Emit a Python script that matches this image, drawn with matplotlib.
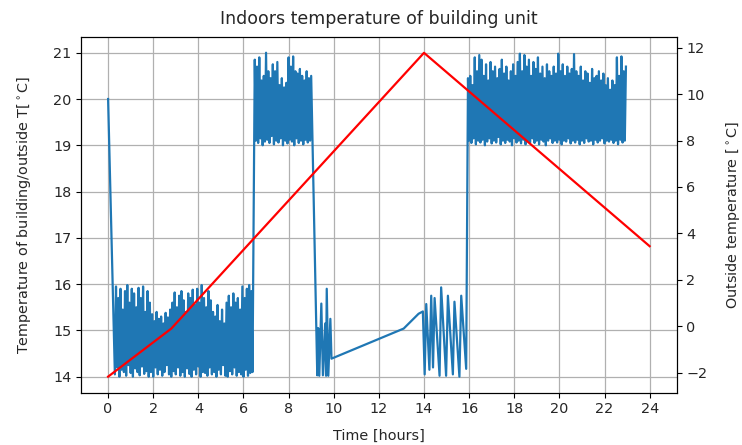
import numpy as np
import matplotlib
matplotlib.use("Agg")
import matplotlib.pyplot as plt

# ---- Outside temperature (right axis) ----
out_time = [0.0, 2.8, 14.0, 24.0]
out_temp = [-2.17, -0.10, 11.78, 3.45]

# ---- Indoor temperature (left axis) ----
# start point
start_time = [0.0]
start_temp = [20.0]

# band A: t = 0.30 ... 6.40, step 0.05
bandA_t0, bandA_dt = 0.30, 0.05
bandA = [14.05, 15.95, 14.20, 15.70, 14.00, 15.90, 14.15, 15.45, 14.10, 15.85,
         14.02, 15.98, 14.25, 15.60, 14.08, 15.90, 14.00, 15.80, 14.18, 15.50,
         14.10, 15.92, 14.03, 15.70, 14.22, 15.95, 14.06, 15.40, 14.12, 15.85,
         14.00, 15.60, 14.10, 15.35, 14.00, 15.20, 14.20, 15.40, 14.05, 15.25,
         14.15, 15.30, 14.02, 15.15, 14.10, 15.38, 14.25, 15.28, 14.05, 15.45,
         14.00, 15.60, 14.12, 15.82, 14.05, 15.50, 14.20, 15.75, 14.02, 15.85,
         14.10, 15.65, 14.00, 15.40, 14.18, 15.80, 14.06, 15.70, 14.00, 15.88,
         14.15, 15.55, 14.05, 15.90, 14.22, 15.60, 14.00, 15.98, 14.10, 15.70,
         14.08, 15.50, 14.02, 15.85, 14.20, 15.65, 14.05, 15.40, 14.10, 15.30,
         14.00, 15.55, 14.15, 15.20, 14.05, 15.45, 14.25, 15.15, 14.02, 15.60,
         14.00, 15.75, 14.12, 15.50, 14.05, 15.80, 14.20, 15.60, 14.02, 15.70,
         14.10, 15.45, 14.05, 15.95, 14.00, 15.70, 14.15, 15.90, 14.02, 15.98,
         14.08, 15.85, 14.10]

# band B: t = 6.50 ... 9.00, step 0.05
bandB_t0, bandB_dt = 6.50, 0.05
bandB = [20.85, 19.10, 20.70, 19.05, 20.90, 19.15, 20.40, 19.00, 20.50, 19.08,
         21.00, 19.12, 20.60, 19.05, 20.45, 19.20, 20.75, 19.02, 20.60, 19.10,
         20.80, 19.06, 20.30, 19.15, 20.45, 19.00, 20.25, 19.10, 20.35, 19.04,
         20.90, 19.12, 20.70, 19.08, 20.92, 19.00, 20.60, 19.15, 20.55, 19.05,
         20.65, 19.10, 20.50, 19.02, 20.40, 19.12, 20.60, 19.06, 20.45, 19.10,
         20.50]

# irregular part: t = 9.27 ... 15.87
mid_time = [9.27, 9.31, 9.36, 9.45, 9.52, 9.62, 9.66, 9.69, 9.76, 9.85, 9.90,
            13.10, 13.76, 13.95,
            14.03, 14.10, 14.24, 14.32, 14.40, 14.47, 14.69, 14.76, 14.98,
            15.06, 15.28, 15.35, 15.57, 15.65, 15.87]
mid_temp = [14.03, 15.05, 14.02, 15.58, 14.03, 15.15, 14.02, 15.90, 14.02, 15.25, 14.39,
            15.04, 15.36, 15.41,
            14.05, 15.57, 14.15, 15.75, 14.20, 15.70, 14.02, 15.93, 14.02,
            15.75, 14.05, 15.62, 14.00, 15.75, 14.17]

# band E: t = 15.95 ... 22.95, step 0.05
bandE_t0, bandE_dt = 15.95, 0.05
bandE = [20.45, 19.10, 20.50, 19.05, 20.30, 19.15, 20.90, 19.02, 20.60, 19.10,
         20.95, 19.06, 20.85, 19.12, 20.50, 19.00, 20.75, 19.08, 20.40, 19.15,
         20.80, 19.04, 20.60, 19.10, 20.70, 19.06, 20.45, 19.18, 20.65, 19.02,
         20.85, 19.10, 20.55, 19.05, 20.70, 19.12, 20.40, 19.08, 20.60, 19.00,
         20.75, 19.15, 20.50, 19.06, 20.80, 19.10, 20.98, 19.04, 20.60, 19.12,
         20.95, 19.02, 20.70, 19.10, 20.85, 19.06, 20.50, 19.15, 20.80, 19.05,
         20.65, 19.10, 20.90, 19.02, 20.55, 19.12, 20.70, 19.08, 20.45, 19.00,
         20.75, 19.10, 20.60, 19.15, 20.50, 19.05, 20.70, 19.10, 20.55, 19.06,
         20.98, 19.12, 20.60, 19.02, 20.75, 19.10, 20.50, 19.08, 20.70, 19.15,
         20.55, 19.04, 20.65, 19.10, 20.97, 19.06, 20.60, 19.12, 20.50, 19.02,
         20.70, 19.10, 20.40, 19.05, 20.60, 19.15, 20.55, 19.08, 20.35, 19.10,
         20.65, 19.02, 20.45, 19.12, 20.50, 19.06, 20.60, 19.10, 20.40, 19.15,
         20.55, 19.04, 20.30, 19.10, 20.45, 19.08, 20.20, 19.12, 20.40, 19.05,
         20.30, 19.10, 20.90, 19.02, 20.50, 19.12, 20.92, 19.06, 20.60, 19.10,
         20.70]

xticks = list(range(0, 25, 2))
left_ticks = [14, 15, 16, 17, 18, 19, 20, 21]
right_ticks = [-2, 0, 2, 4, 6, 8, 10, 12]

title = "Indoors temperature of building unit"
xlabel = "Time [hours]"
ylabel_left = "Temperature of building/outside T[$^\\circ$C]"
ylabel_right = "Outside temperature [$^\\circ$C]"

# ---- assemble indoor series ----
tA = bandA_t0 + bandA_dt * np.arange(len(bandA))
tB = bandB_t0 + bandB_dt * np.arange(len(bandB))
tE = bandE_t0 + bandE_dt * np.arange(len(bandE))
in_time = np.concatenate([start_time, tA, tB, mid_time, tE])
in_temp = np.concatenate([start_temp, bandA, bandB, mid_temp, bandE])

fs = 10.4
txt = "#262626"
fig = plt.figure(figsize=(7.42, 4.45), dpi=100)
ax = fig.add_axes([0.1092, 0.1175, 0.8028, 0.8])
ax.plot(in_time, in_temp, color="#1f77b4", lw=1.6)
ax.set_xlim(-1.2, 25.2)
ax.set_ylim(13.654, 21.346)
ax.set_xticks(xticks)
ax.set_yticks(left_ticks)
ax.grid(True, color="#b0b0b0", lw=0.9)
ax.set_xlabel(xlabel, fontsize=fs, labelpad=9, color=txt)
ax.set_ylabel(ylabel_left, fontsize=fs, labelpad=14, color=txt)
ax.set_title(title, fontsize=12.5, pad=9, color=txt)
ax.tick_params(labelsize=fs, labelcolor=txt)

ax2 = ax.twinx()
ax2.plot(out_time, out_temp, color="red", lw=1.6)
ax2.set_ylim(-2.862, 12.474)
ax2.set_yticks(right_ticks)
ax2.set_ylabel(ylabel_right, fontsize=fs, labelpad=12, color=txt)
ax2.tick_params(labelsize=fs, labelcolor=txt)

fig.savefig("out.png", dpi=100)
